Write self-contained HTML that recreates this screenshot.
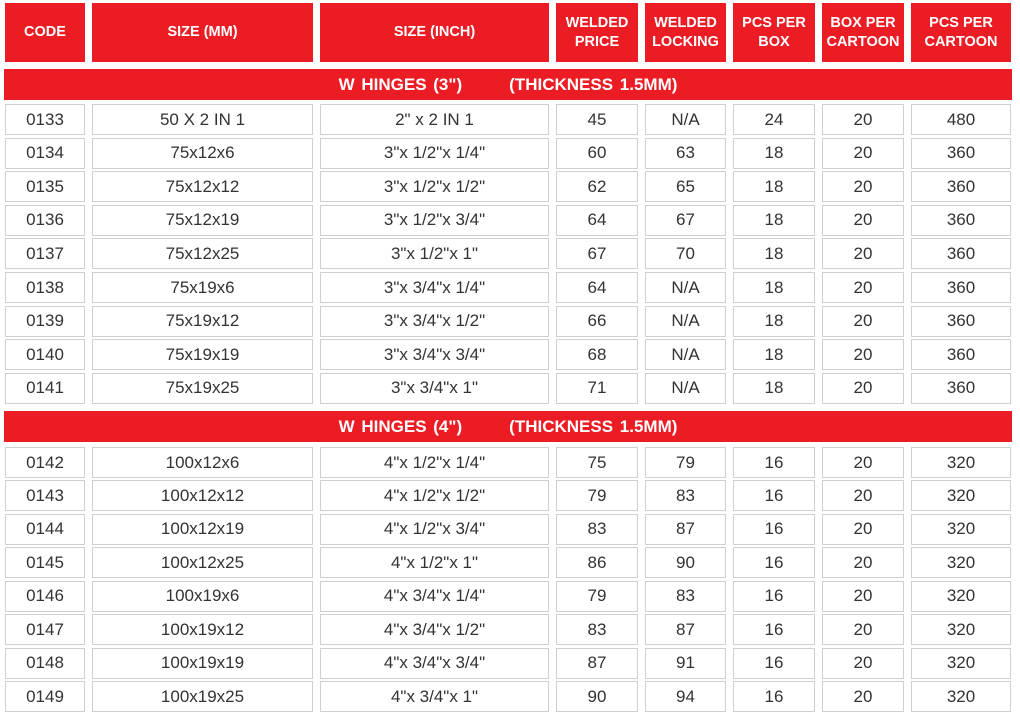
<!DOCTYPE html>
<html><head><meta charset="utf-8"><style>
body{margin:0;width:1020px;height:716px;background:#fff;position:relative;overflow:hidden;font-family:"Liberation Sans",sans-serif}
.h{position:absolute;background:#ec1c24;color:#fff;font-weight:bold;font-size:14.5px;display:flex;align-items:center;justify-content:center;text-align:center;line-height:19px;box-sizing:border-box}
.c{position:absolute;border:1.5px solid #cfcfcf;box-sizing:border-box;display:flex;align-items:center;justify-content:center;color:#333;font-size:17px}
.s{position:absolute;left:4px;width:1008px;height:31px;background:#ec1c24;color:#fff;font-weight:bold;font-size:17px;display:flex;align-items:center;justify-content:center;word-spacing:2px}
</style></head><body>
<div id="root"></div>
<script>
const cols=[[5,80],[92,221],[320,229],[556,82],[645,81],[733,82],[822,82],[911,100]];
const heads=["CODE","SIZE (MM)","SIZE (INCH)","WELDED<br>PRICE","WELDED<br>LOCKING","PCS PER<br>BOX","BOX PER<br>CARTOON","PCS PER<br>CARTOON"];
const headNames=["code","size-mm","size-inch","welded-price","welded-locking","pcs-per-box","box-per-cartoon","pcs-per-cartoon"];
const sec1=[["0133","50 X 2 IN 1","2\" x 2 IN 1","45","N/A","24","20","480"],
["0134","75x12x6","3\"x 1/2\"x 1/4\"","60","63","18","20","360"],
["0135","75x12x12","3\"x 1/2\"x 1/2\"","62","65","18","20","360"],
["0136","75x12x19","3\"x 1/2\"x 3/4\"","64","67","18","20","360"],
["0137","75x12x25","3\"x 1/2\"x 1\"","67","70","18","20","360"],
["0138","75x19x6","3\"x 3/4\"x 1/4\"","64","N/A","18","20","360"],
["0139","75x19x12","3\"x 3/4\"x 1/2\"","66","N/A","18","20","360"],
["0140","75x19x19","3\"x 3/4\"x 3/4\"","68","N/A","18","20","360"],
["0141","75x19x25","3\"x 3/4\"x 1\"","71","N/A","18","20","360"]];
const sec2=[["0142","100x12x6","4\"x 1/2\"x 1/4\"","75","79","16","20","320"],
["0143","100x12x12","4\"x 1/2\"x 1/2\"","79","83","16","20","320"],
["0144","100x12x19","4\"x 1/2\"x 3/4\"","83","87","16","20","320"],
["0145","100x12x25","4\"x 1/2\"x 1\"","86","90","16","20","320"],
["0146","100x19x6","4\"x 3/4\"x 1/4\"","79","83","16","20","320"],
["0147","100x19x12","4\"x 3/4\"x 1/2\"","83","87","16","20","320"],
["0148","100x19x19","4\"x 3/4\"x 3/4\"","87","91","16","20","320"],
["0149","100x19x25","4\"x 3/4\"x 1\"","90","94","16","20","320"]];
const root=document.getElementById('root');
cols.forEach((c,i)=>{const d=document.createElement('div');d.className='h';


d.style.cssText=`left:${c[0]}px;top:3px;width:${c[1]}px;height:59px`;d.innerHTML=heads[i];root.appendChild(d);});
function sec(top,text,name){const d=document.createElement('div');d.className='s';


d.style.top=top+'px';d.innerHTML=text;root.appendChild(d);}
sec(69,'W HINGES (3")&nbsp;&nbsp;&nbsp;&nbsp;&nbsp;&nbsp;&nbsp;(THICKNESS 1.5MM)','section-3in-hinges');
sec(411,'W HINGES (4")&nbsp;&nbsp;&nbsp;&nbsp;&nbsp;&nbsp;&nbsp;(THICKNESS 1.5MM)','section-4in-hinges');
function rows(data,top,pitch){data.forEach((r,ri)=>{r.forEach((v,ci)=>{const d=document.createElement('div');d.className='c';


const c=cols[ci];d.style.cssText=`left:${c[0]}px;top:${(top+ri*pitch).toFixed(1)}px;width:${c[1]}px;height:31px`;d.textContent=v;root.appendChild(d);});});}
rows(sec1,104,33.6);
rows(sec2,447,33.45);
</script>
</body></html>
